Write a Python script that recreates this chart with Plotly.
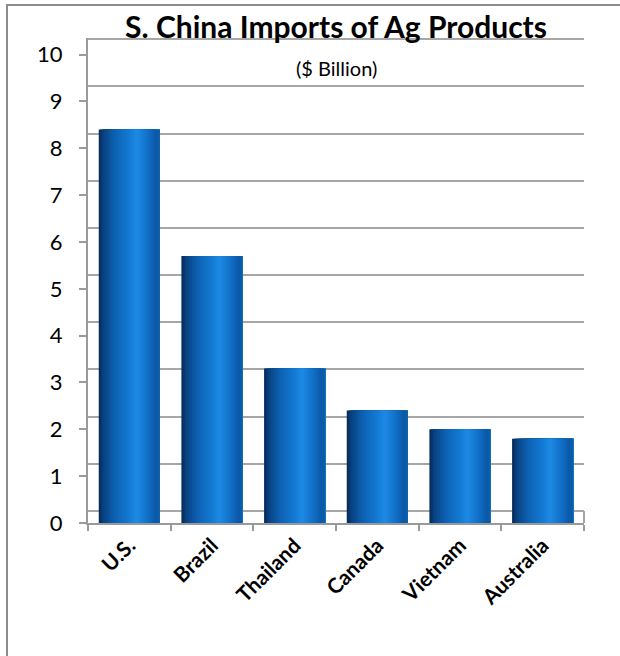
import plotly.graph_objects as go

# ---- data ----
countries = ["U.S.", "Brazil", "Thailand", "Canada", "Vietnam", "Australia"]
imports_bn = [8.4, 5.7, 3.3, 2.4, 2.0, 1.8]
y_ticks = list(range(0, 11))

title_text = "S. China Imports of Ag Products"
subtitle_text = "($ Billion)"

# ---- styling ----
FONT = "Lato"
W, H = 620, 656
L, R, T, B = 88, 36, 38, 133
plot_h = H - T - B
px_per_unit = 46.84
y1_max = plot_h / px_per_unit
grid_px = 47.17
floor_back_px = 511
y2_min = -(T + plot_h - floor_back_px) / grid_px
y2_max = (floor_back_px - T) / grid_px

bar_width = 0.74
HL = 0.62          # highlight position across the cylinder
N_LEFT, N_RIGHT = 22, 12
stops = [
    (0.00, (5, 40, 84)),
    (0.07, (9, 64, 126)),
    (0.25, (13, 96, 176)),
    (0.50, (20, 122, 212)),
    (0.62, (30, 138, 228)),
    (0.80, (17, 112, 200)),
    (0.94, (11, 88, 166)),
    (1.00, (14, 96, 170)),
]


def grad(t):
    t = min(max(t, 0), 1)
    for (t0, c0), (t1, c1) in zip(stops[:-1], stops[1:]):
        if t0 <= t <= t1:
            f = (t - t0) / (t1 - t0) if t1 > t0 else 0
            c = [round(a + (b - a) * f) for a, b in zip(c0, c1)]
            return "rgb(%d,%d,%d)" % tuple(c)
    return "rgb(%d,%d,%d)" % stops[-1][1]


fig = go.Figure()

# empty trace so the back-wall axis (gridlines) is drawn
fig.add_trace(go.Scatter(x=countries, y=[None] * len(countries), yaxis="y2",
                         showlegend=False, hoverinfo="skip"))


def add_layer(a, b, color, first=False):
    fig.add_trace(go.Bar(
        x=countries, y=imports_bn,
        offset=-bar_width / 2 + a * bar_width, width=(b - a) * bar_width,
        marker=dict(color=color, line=dict(width=0)),
        showlegend=False, hoverinfo="x+y" if first else "skip",
    ))


# left side: curtains [t, 1] with t increasing to the highlight
for k in range(N_LEFT):
    t0 = HL * k / N_LEFT
    t1 = HL * (k + 1) / N_LEFT
    add_layer(t0, 1.0, grad((t0 + t1) / 2), first=(k == 0))
# right side: curtains [HL, s] with s decreasing to the highlight
for j in range(N_RIGHT):
    s0 = 1 - (1 - HL) * j / N_RIGHT
    s1 = 1 - (1 - HL) * (j + 1) / N_RIGHT
    add_layer(HL, s0, grad((s0 + s1) / 2))

fig.update_layout(
    width=W, height=H,
    margin=dict(l=L, r=R, t=T, b=B),
    paper_bgcolor="white", plot_bgcolor="rgba(0,0,0,0)",
    barmode="overlay",
    font=dict(family=FONT, color="black"),
    title=dict(text="<b>" + title_text + "</b>", x=(L + (W - L - R) / 2) / W,
               xanchor="center", y=1 - 27 / H, yanchor="middle",
               font=dict(size=30, family=FONT, color="black")),
    xaxis=dict(
        type="category", categoryorder="array", categoryarray=countries,
        range=[-0.5, len(countries) - 0.5],
        showline=True, linecolor="#9a9a9a", linewidth=2,
        ticks="outside", tickson="boundaries", ticklen=6, tickwidth=2,
        tickcolor="#9a9a9a", tickangle=-45,
        tickfont=dict(size=21, family=FONT, color="black", weight="bold"),
        showgrid=False, zeroline=False,
    ),
    yaxis=dict(
        range=[0, y1_max], tickvals=y_ticks, ticktext=[str(v) for v in y_ticks],
        showline=True, linecolor="#9a9a9a", linewidth=2,
        ticks="outside", ticklen=7, tickwidth=2, tickcolor="#9a9a9a",
        ticklabelstandoff=12,
        tickfont=dict(size=22, family=FONT, color="black"),
        showgrid=False, zeroline=False,
    ),
    yaxis2=dict(
        overlaying="y", range=[y2_min, y2_max], tickvals=y_ticks,
        showticklabels=False, showgrid=True, gridcolor="#a6a6a6", gridwidth=2,
        zeroline=False, showline=False, ticks="", layer="below traces",
    ),
    annotations=[dict(
        text=subtitle_text, xref="paper", yref="paper", x=0.5,
        y=(T + plot_h - 68) / plot_h, xanchor="center", yanchor="middle",
        showarrow=False, font=dict(size=20, family=FONT, color="black"),
    )],
    shapes=[
        dict(type="path", xref="paper", yref="paper",
             path="M %f %f L %f %f L %f %f" % (
                 (7 - L) / (W - L - R), -0.4,
                 (7 - L) / (W - L - R), (T + plot_h - 5) / plot_h,
                 1.2, (T + plot_h - 5) / plot_h),
             line=dict(color="#8c8c8c", width=2)),
        dict(type="line", xref="paper", yref="y2", x0=1, x1=1,
             y0=0, y1=y2_min - 0.12, line=dict(color="#a6a6a6", width=2)),
    ],
)

fig.write_html("out.html")
